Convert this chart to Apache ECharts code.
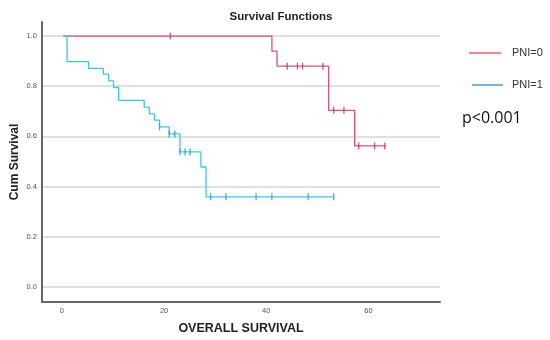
<!DOCTYPE html>
<html><head><meta charset="utf-8">
<script src="https://cdn.jsdelivr.net/npm/echarts@6/dist/echarts.min.js"></script>
<style>html,body{margin:0;padding:0;background:#fff}#c{width:550px;height:340px}</style>
</head><body><div id="c"></div>
<script>
// PNI=0 step curve: [time, survival]
const pni0Times = [0.25, 41.1, 42.1, 52.2, 57.3, 63.5];
const pni0Surv  = [1.0, 0.94, 0.88, 0.704, 0.562, 0.562];
const pni0CensorTimes = [21.2, 44.1, 46.1, 47.1, 51.1, 53.2, 55.2, 58.1, 61.2, 63.2];
const pni0CensorSurv  = [1.0, 0.88, 0.88, 0.88, 0.88, 0.704, 0.704, 0.562, 0.562, 0.562];
// PNI=1
const pni1Times = [0.25, 1.0, 5.2, 8.1, 9.15, 10.1, 11.1, 16.1, 17.1, 18.1, 19.1, 21.0, 23.1, 27.2, 28.2, 53.2];
const pni1Surv  = [1.0, 0.898, 0.871, 0.848, 0.821, 0.795, 0.744, 0.717, 0.690, 0.665, 0.638, 0.61, 0.538, 0.478, 0.359, 0.359];
const pni1CensorTimes = [19.1, 21.0, 22.1, 23.1, 24.1, 25.1, 29.1, 32.1, 38.0, 41.1, 48.2, 53.2];
const pni1CensorSurv  = [0.638, 0.61, 0.61, 0.538, 0.538, 0.538, 0.359, 0.359, 0.359, 0.359, 0.359, 0.359];
const xTicks = [0, 20, 40, 60];
const yTicks = [0, 0.2, 0.4, 0.6, 0.8, 1.0];
const seriesNames = ['PNI=0', 'PNI=1'];

const zip = (a, b) => a.map((v, i) => [v, b[i]]);
const chart = echarts.init(document.getElementById('c'));
chart.setOption({
  animation: false,
  title: {text: 'Survival Functions', left: 276, top: 6, textAlign: 'center',
    textStyle: {fontFamily: 'Liberation Sans', fontSize: 11.5, fontWeight: 'bold', color: '#222'}},
  legend: {show: false},
  grid: {left: 42, right: 110, top: 22, bottom: 38, containLabel: false, outerBoundsMode: 'none'},
  xAxis: {type: 'value', min: -3.9, max: 74,
    name: 'OVERALL SURVIVAL', nameLocation: 'middle', nameGap: 20, nameMoveOverlap: false,
    nameTextStyle: {fontFamily: 'Liberation Sans', fontSize: 12.5, fontWeight: 'bold', color: '#222'},
    axisLine: {onZero: false, lineStyle: {color: '#666', width: 2}},
    axisTick: {show: false},
    axisLabel: {customValues: xTicks, fontFamily: 'Liberation Sans', fontSize: 7.5, color: '#555', margin: 5,
      formatter: v => String(v)},
    splitLine: {show: false}},
  yAxis: {type: 'value', min: -0.06, max: 1.056,
    name: 'Cum Survival', nameLocation: 'middle', nameGap: 21, nameRotate: 90, nameMoveOverlap: false,
    nameTextStyle: {fontFamily: 'Liberation Sans', fontSize: 12, fontWeight: 'bold', color: '#222'},
    axisLine: {show: true, onZero: false, lineStyle: {color: '#666', width: 2}},
    axisTick: {show: false, customValues: yTicks},
    axisLabel: {customValues: yTicks, fontFamily: 'Liberation Sans', fontSize: 7.5, color: '#555', margin: 5,
      formatter: v => v.toFixed(1)},
    splitLine: {show: true, lineStyle: {color: '#d4d4d4', width: 1.5}}},
  series: [
    {name: seriesNames[0], type: 'line', step: 'end', data: zip(pni0Times, pni0Surv), showSymbol: false,
      lineStyle: {color: '#e0507a', width: 1.3}, z: 3},
    {name: seriesNames[1], type: 'line', step: 'end', data: zip(pni1Times, pni1Surv), showSymbol: false,
      lineStyle: {color: '#38c6f6', width: 1.3}, z: 3},
    {type: 'scatter', data: zip(pni0CensorTimes, pni0CensorSurv), symbol: 'rect', symbolSize: [1.3, 7],
      itemStyle: {color: '#c8285a'}, z: 4},
    {type: 'scatter', data: zip(pni1CensorTimes, pni1CensorSurv), symbol: 'rect', symbolSize: [1.3, 7],
      itemStyle: {color: '#1e98d8'}, z: 4}
  ],
  graphic: [
    {type: 'line', shape: {x1: 469, y1: 53, x2: 501, y2: 53}, style: {stroke: '#f06070', lineWidth: 1.5}},
    {type: 'text', left: 512, top: 47, style: {text: seriesNames[0], font: '11px "Liberation Sans"', fill: '#333'}},
    {type: 'line', shape: {x1: 472, y1: 85, x2: 503, y2: 85}, style: {stroke: '#4a9ae0', lineWidth: 1.5}},
    {type: 'text', left: 512, top: 79, style: {text: seriesNames[1], font: '11px "Liberation Sans"', fill: '#333'}},
    {type: 'text', left: 462, top: 110, style: {text: 'p<0.001', font: '16px "Open Sans"', fill: '#111'}}
  ]
});
</script></body></html>
